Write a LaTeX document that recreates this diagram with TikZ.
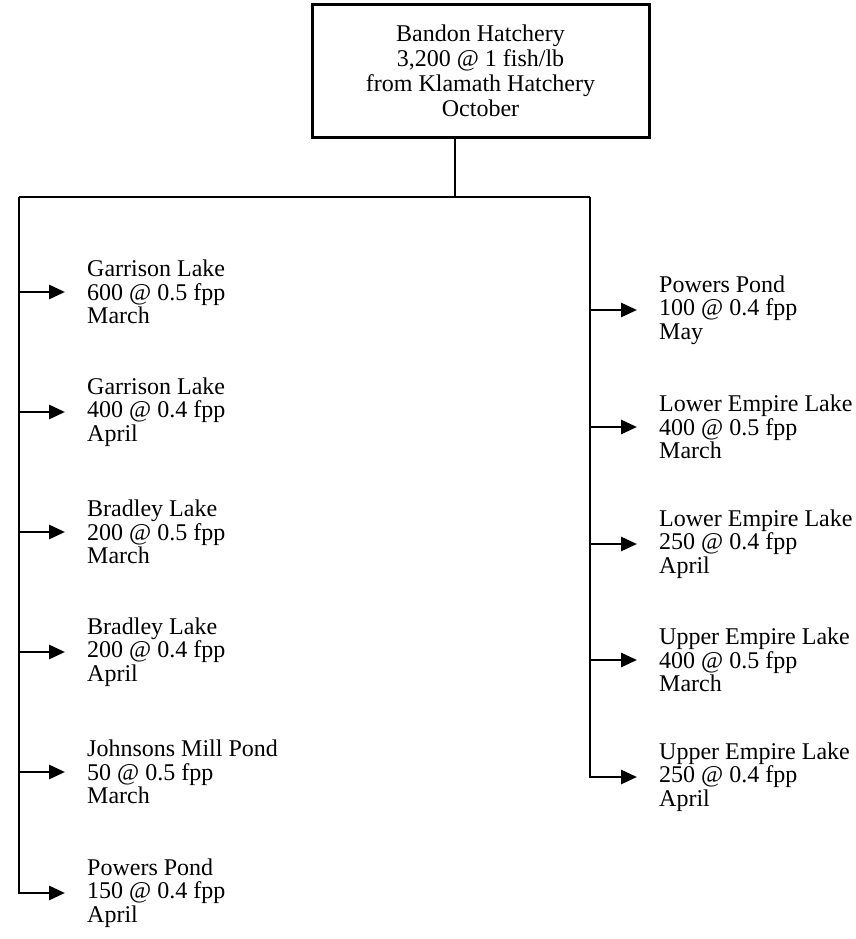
\documentclass[tikz,border=0pt]{standalone}
\usepackage{fontspec}
\setmainfont{Liberation Serif}
\usetikzlibrary{arrows.meta}
\begin{document}
\begin{tikzpicture}[x=1pt,y=-1pt,
  ln/.style={line width=2.8pt},
  arr/.style={ln,-{Triangle[length=16pt,width=14pt]}},
  topbox/.style={draw,line width=3pt,minimum width=337pt,minimum height=132pt,align=center,
    font=\fontsize{24pt}{25pt}\selectfont},
  item/.style={anchor=west,align=left,inner xsep=22pt,inner ysep=0pt,
    font=\fontsize{24pt}{23.5pt}\selectfont}]
\useasboundingbox (0,0) rectangle (855,939);
\node[topbox] (top) at (480.5,71) {Bandon Hatchery\\3,200 @ 1 fish/lb\\from Klamath Hatchery\\October};
\coordinate (j) at (455,197);
\coordinate (lc) at (19,197);
\coordinate (rc) at (590,197);
\node[item] (L1) at (65,292) {Garrison Lake\\600 @ 0.5 fpp\\March};
\node[item] (L2) at (65,412) {Garrison Lake\\400 @ 0.4 fpp\\April};
\node[item] (L3) at (65,532) {Bradley Lake\\200 @ 0.5 fpp\\March};
\node[item] (L4) at (65,652) {Bradley Lake\\200 @ 0.4 fpp\\April};
\node[item] (L5) at (65,772) {Johnsons Mill Pond\\50 @ 0.5 fpp\\March};
\node[item] (L6) at (65,893) {Powers Pond\\150 @ 0.4 fpp\\April};
\node[item] (R1) at (637,310) {Powers Pond\\100 @ 0.4 fpp\\May};
\node[item] (R2) at (637,427) {Lower Empire Lake\\400 @ 0.5 fpp\\March};
\node[item] (R3) at (637,544) {Lower Empire Lake\\250 @ 0.4 fpp\\April};
\node[item] (R4) at (637,660) {Upper Empire Lake\\400 @ 0.5 fpp\\March};
\node[item] (R5) at (637,777) {Upper Empire Lake\\250 @ 0.4 fpp\\April};
\draw[ln] (j |- top.south) -- (j);
\draw[ln] (lc) -- (rc);
\foreach \n in {L1,L2,L3,L4,L5} \draw[arr] (lc |- \n.west) -- (\n.west);
\draw[arr] (lc) |- (L6.west);
\foreach \n in {R1,R2,R3,R4} \draw[arr] (rc |- \n.west) -- (\n.west);
\draw[arr] (rc) |- (R5.west);
\end{tikzpicture}
\end{document}
